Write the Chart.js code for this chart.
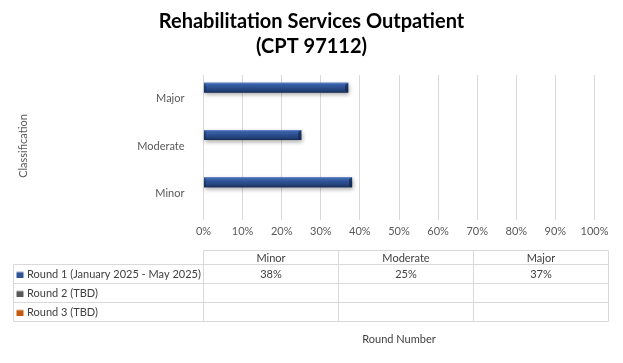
<!DOCTYPE html>
<html><head><meta charset="utf-8">
<script src="https://cdn.jsdelivr.net/npm/chart.js@4/dist/chart.umd.min.js"></script>
<style>html,body{margin:0;padding:0;background:#fff}#wrap{width:623px;height:363px;position:relative}</style>
</head><body><div id="wrap"><canvas id="c" width="623" height="363"></canvas></div>
<script>
const titleLines = ['Rehabilitation Services Outpatient', '(CPT 97112)'];
const categories = ['Minor', 'Moderate', 'Major'];
const seriesNames = ['Round 1 (January 2025 - May 2025)', 'Round 2 (TBD)', 'Round 3 (TBD)'];
const round1 = [38, 25, 37];
const round2 = [null, null, null];
const round3 = [null, null, null];
const seriesColors = ['#2F5597', '#595959', '#C55A11'];
const xAxisTitle = 'Round Number';
const yAxisTitle = 'Classification';

const FONT = 'Lato, "Open Sans", sans-serif';
const TXT = '#595959';

function fmt(v) { return v === null || v === undefined ? '' : v + '%'; }

const barStyle = {
  id: 'barStyle',
  afterDatasetsDraw(chart) {
    const ctx = chart.ctx;
    chart.data.datasets.forEach((ds, di) => {
      const meta = chart.getDatasetMeta(di);
      meta.data.forEach((el, i) => {
        if (ds.data[i] === null) return;
        const p = el.getProps(['x', 'y', 'base', 'height'], true);
        const l = Math.min(p.base, p.x), r = Math.max(p.base, p.x);
        const t = p.y - p.height / 2, b = p.y + p.height / 2;
        ctx.save();
        ctx.shadowColor = 'rgba(0,0,0,0.35)';
        ctx.shadowBlur = 4;
        ctx.shadowOffsetY = 2;
        ctx.shadowOffsetX = 1;
        const g = ctx.createLinearGradient(0, t, 0, b);
        g.addColorStop(0, '#6d8fd0');
        g.addColorStop(0.15, '#3a63aa');
        g.addColorStop(0.5, '#2c4f8f');
        g.addColorStop(0.85, '#203d72');
        g.addColorStop(1, '#142748');
        ctx.fillStyle = g;
        ctx.fillRect(l, t, r - l, b - t);
        ctx.restore();
        ctx.save();
        ctx.fillStyle = 'rgba(10,25,55,0.55)';
        ctx.beginPath();
        ctx.moveTo(r, t); ctx.lineTo(r - 3, t + 2); ctx.lineTo(r - 3, b - 2); ctx.lineTo(r, b); ctx.closePath();
        ctx.fill();
        ctx.fillStyle = 'rgba(10,25,55,0.35)';
        ctx.beginPath();
        ctx.moveTo(l, t); ctx.lineTo(l + 2, t + 2); ctx.lineTo(l + 2, b - 2); ctx.lineTo(l, b); ctx.closePath();
        ctx.fill();
        ctx.restore();
      });
    });
  }
};

const dataTable = {
  id: 'dataTable',
  afterDraw(chart) {
    const ctx = chart.ctx;
    const colX = [203.5, 338.5, 473.5, 608.5];
    const leftX = 13.5;
    const rowY = [250.5, 264.5, 283.5, 302.5, 321.5];
    const values = [round1, round2, round3];
    ctx.save();
    ctx.strokeStyle = '#d9d9d9';
    ctx.lineWidth = 1;
    ctx.beginPath();
    ctx.moveTo(colX[0], rowY[0]); ctx.lineTo(colX[3], rowY[0]);
    for (let k = 1; k < rowY.length; k++) { ctx.moveTo(leftX, rowY[k]); ctx.lineTo(colX[3], rowY[k]); }
    colX.forEach(x => { ctx.moveTo(x, rowY[0]); ctx.lineTo(x, rowY[4]); });
    ctx.moveTo(leftX, rowY[1]); ctx.lineTo(leftX, rowY[4]);
    ctx.stroke();

    ctx.font = '11px ' + FONT;
    ctx.fillStyle = '#404040';
    ctx.textBaseline = 'middle';
    ctx.textAlign = 'center';
    categories.forEach((c, i) => {
      ctx.fillText(c, (colX[i] + colX[i + 1]) / 2, (rowY[0] + rowY[1]) / 2 + 0.5);
    });
    values.forEach((arr, r) => {
      const cy = (rowY[r + 1] + rowY[r + 2]) / 2 + 0.5;
      arr.forEach((v, i) => {
        ctx.textAlign = 'center';
        ctx.fillStyle = '#404040';
        ctx.fillText(fmt(v), (colX[i] + colX[i + 1]) / 2, cy);
      });
      const sx = 16.5, sy = Math.round(cy) - 4;
      const g = ctx.createLinearGradient(0, sy, 0, sy + 7);
      g.addColorStop(0, '#ffffff');
      g.addColorStop(0.3, seriesColors[r]);
      g.addColorStop(1, seriesColors[r]);
      ctx.fillStyle = g;
      ctx.fillRect(sx, sy, 7, 7);
      ctx.fillStyle = '#404040';
      ctx.textAlign = 'left';
      ctx.fillText(seriesNames[r], 27, cy);
    });
    ctx.restore();
  }
};

new Chart(document.getElementById('c'), {
  type: 'bar',
  data: {
    labels: categories,
    datasets: [
      { label: seriesNames[0], data: round1, backgroundColor: seriesColors[0] },
      { label: seriesNames[1], data: round2, backgroundColor: seriesColors[1] },
      { label: seriesNames[2], data: round3, backgroundColor: seriesColors[2] }
    ]
  },
  options: {
    responsive: false,
    animation: false,
    indexAxis: 'y',
    categoryPercentage: 0.7,
    barPercentage: 0.9,
    layout: { padding: { left: 28.5, right: 28.5, top: 0, bottom: 0 } },
    plugins: {
      legend: { display: false },
      tooltip: { enabled: false },
      title: {
        display: true, text: titleLines, color: '#000',
        font: { family: FONT, size: 20, weight: 'bold', lineHeight: 1.25 },
        padding: { top: 9.5, bottom: 15.5 }
      }
    },
    scales: {
      x: {
        min: 0, max: 100,
        ticks: { stepSize: 10, callback: v => v + '%', color: TXT, font: { family: FONT, size: 11 }, padding: 5, maxRotation: 0 },
        grid: { color: '#d9d9d9', tickLength: 3 },
        border: { display: false },
        title: { display: true, text: xAxisTitle, color: '#404040', font: { family: FONT, size: 11 }, padding: { top: 0, bottom: 17 } },
        afterFit(s) { s.height = 146; }
      },
      y: {
        reverse: true,
        grid: { display: false },
        border: { display: false },
        ticks: { color: TXT, font: { family: FONT, size: 11 }, padding: 11 },
        title: { display: true, text: yAxisTitle, color: TXT, font: { family: FONT, size: 11 }, padding: { top: -12.1, bottom: 0 } },
        afterFit(s) { s.width = 175; }
      }
    }
  },
  plugins: [barStyle, dataTable]
});
</script>
</body></html>
